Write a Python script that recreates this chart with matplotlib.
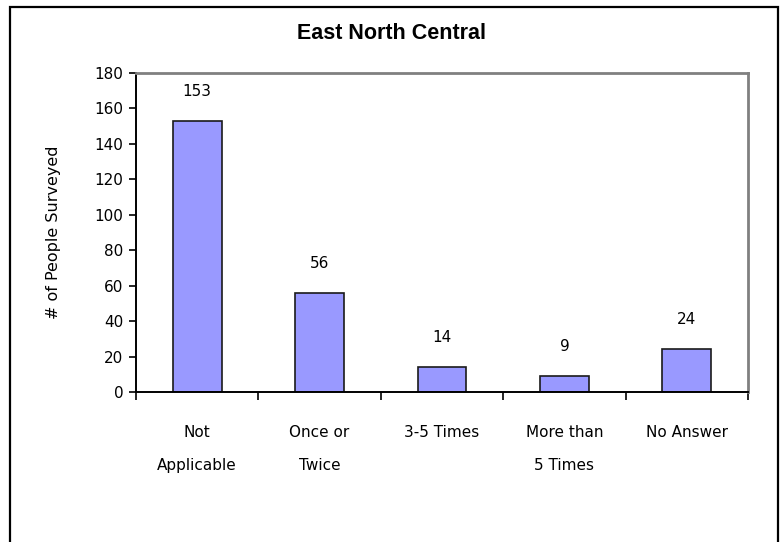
import matplotlib.pyplot as plt
from matplotlib.patches import Rectangle

categories = ['Not\nApplicable', 'Once or\nTwice', '3-5 Times', 'More than\n5 Times', 'No Answer']
counts = [153, 56, 14, 9, 24]
yticks = [0, 20, 40, 60, 80, 100, 120, 140, 160, 180]

fig = plt.figure(figsize=(7.83, 5.42), dpi=100)
ax = fig.add_axes([0.1737, 0.2768, 0.7816, 0.5885])

x = range(len(categories))
bars = ax.bar(x, counts, width=0.4, color='#9999FF', edgecolor='#1a1a1a', linewidth=1.2)
for xi, v in zip(x, counts):
    ax.annotate(str(v), (xi, v), xytext=(0, 16), textcoords='offset points',
                ha='center', va='bottom', fontsize=11)

ax.set_xlim(-0.5, len(categories) - 0.5)
ax.set_ylim(0, 180)
ax.set_yticks(yticks)
ax.tick_params(axis='y', direction='out', length=5, width=1.2, labelsize=11, pad=4)

# category labels between boundary ticks
ax.set_xticks([i - 0.5 for i in range(len(categories) + 1)])
ax.set_xticklabels([])
ax.tick_params(axis='x', direction='out', length=6, width=1.2)
for xi, lab in zip(x, categories):
    ax.text(xi, -0.105, lab, transform=ax.get_xaxis_transform(), ha='center', va='top',
            fontsize=11, linespacing=2.45)

ax.set_ylabel('# of People Surveyed', fontsize=11.5, labelpad=24)

for s in ['left', 'bottom']:
    ax.spines[s].set_color('black')
    ax.spines[s].set_linewidth(1.4)
for s in ['top', 'right']:
    ax.spines[s].set_color('#808080')
    ax.spines[s].set_linewidth(2)

fig.text(0.5, 0.939, 'East North Central', ha='center', va='center',
         fontsize=15.5, fontweight='bold', family='Liberation Sans')

fig.patches.append(Rectangle((10 / 783, -0.1), 768 / 783, 1.1 - 7 / 542,
                             transform=fig.transFigure, fill=False,
                             edgecolor='black', linewidth=1.6))

fig.savefig('out.png', dpi=100)
